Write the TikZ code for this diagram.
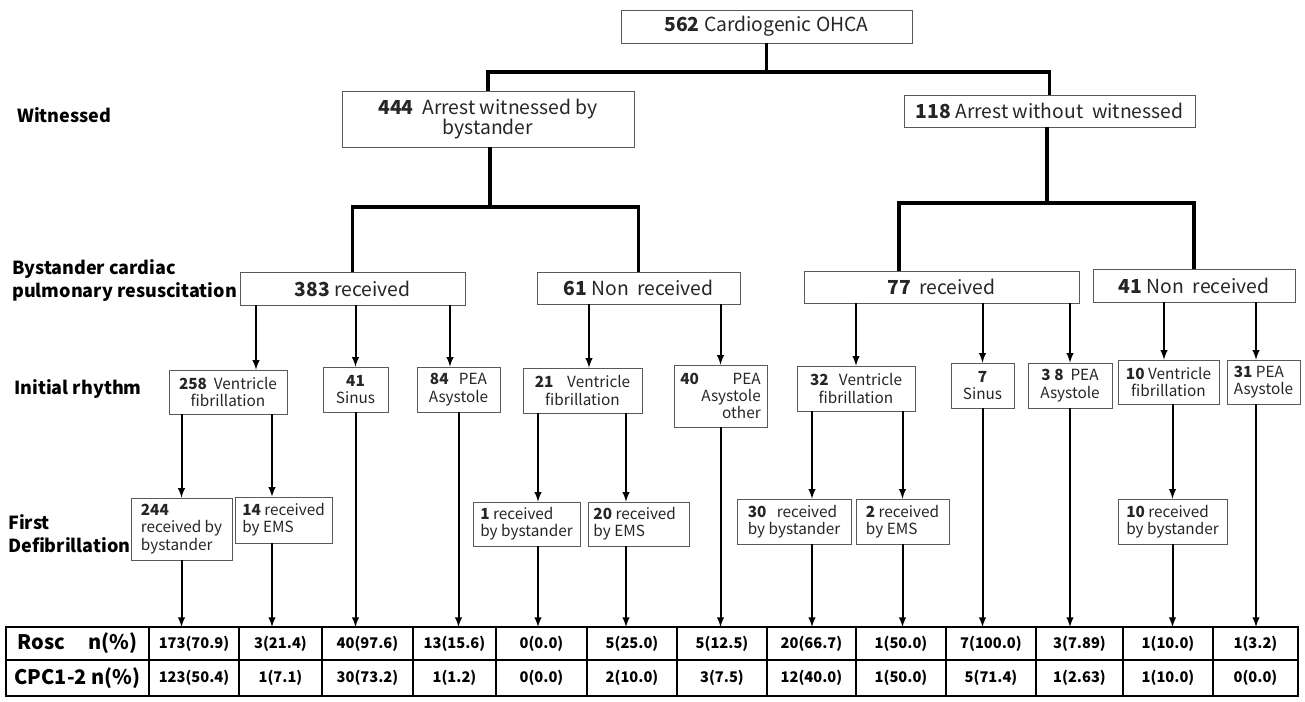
\documentclass[tikz,border=0pt]{standalone}
\usepackage{fontspec}
\setmainfont{Noto Sans CJK JP}
\usepackage{tikz}
\usetikzlibrary{arrows,positioning}
\tikzstyle{flowarrow} = [line width=1.5pt,->,>=latex]
\tikzstyle{treeline} = [line width=2.3pt]

\begin{document}
\begin{tikzpicture}[x=0.75pt,y=-0.75pt,
bignode/.style={rectangle, draw=black!65, text=black!85, inner sep=1pt, align=center, font=\fontsize{14.5}{15.5}\selectfont},
smallnode/.style={rectangle, draw=black!65, text=black!85, inner sep=1pt, font=\fontsize{11.5}{13}\selectfont},
labelnode/.style={anchor=west, align=left, inner sep=0pt, font=\fontsize{13.5}{17.25}\selectfont\bfseries},
cellnode/.style={rectangle, draw, line width=1.9pt, inner sep=0pt, outer sep=0pt, minimum height=24.75pt, font=\fontsize{11}{13}\selectfont\bfseries},
headnode/.style={cellnode, minimum width=107.25pt, font=\fontsize{15}{17}\selectfont\bfseries},]
\useasboundingbox (0,0) rectangle (1305,701);

%Labels
\node[labelnode] (lwit) at (17,115) {Witnessed};
\node[labelnode] (lcpr) at (12,280) {Bystander cardiac\\pulmonary resuscitation};
\node[labelnode] (lrhy) at (14,389) {Initial rhythm};
\node[labelnode] (ldef) at (8,534) {First\\Defibrillation};

%Nodes
\node[bignode, minimum width=218.25pt, minimum height=24.75pt] (top) at (766.5,26.5) {\textbf{562} Cardiogenic OHCA};
\node[bignode, minimum width=219pt, minimum height=42pt] (w444) at (488,119) {\textbf{444}~ Arrest witnessed by\\bystander};
\node[bignode, minimum width=218.25pt, minimum height=24pt] (w118) at (1049.5,111) {\textbf{118} Arrest without~ witnessed};

\node[bignode, minimum width=168.75pt, minimum height=24.75pt] (c383) at (352.5,288.5) {\textbf{383} received};
\node[bignode, minimum width=152.25pt, minimum height=24pt] (c61) at (638.5,288) {\textbf{61} Non~ received};
\node[bignode, minimum width=206.25pt, minimum height=24pt] (c77) at (941.5,287) {\textbf{77}~ received};
\node[bignode, minimum width=151.5pt, minimum height=24.75pt] (c41) at (1194,285.5) {\textbf{41} Non~ received};

\node[smallnode, minimum width=88.5pt, minimum height=33pt, align=center] (r258) at (228,392) {\textbf{258}~ Ventricle\\fibrillation};
\node[smallnode, minimum width=48.75pt, minimum height=33.75pt, align=center] (r41) at (355.5,389.5) {\textbf{41}\\Sinus};
\node[smallnode, minimum width=62.25pt, minimum height=33.75pt, align=center] (r84) at (458.5,389.5) {\textbf{84}~~ PEA\\Asystole};
\node[smallnode, minimum width=89.25pt, minimum height=33.75pt, align=center] (r21) at (582.5,390.5) {\textbf{21}~~~ Ventricle\\fibrillation};
\node[smallnode, minimum width=69.75pt, minimum height=46.5pt, align=right] (r40) at (720.5,396) {\textbf{40}\hspace{2.2em}PEA\\Asystole\\other};
\node[smallnode, minimum width=88.5pt, minimum height=33.75pt, align=center] (r32) at (856,388.5) {\textbf{32}~~ Ventricle\\fibrillation};
\node[smallnode, minimum width=47.25pt, minimum height=33.75pt, align=center] (r7) at (982.5,385.5) {\textbf{7}\\Sinus};
\node[smallnode, minimum width=63pt, minimum height=33.75pt, align=center] (r38) at (1070,385.5) {\textbf{3 8}~ PEA\\Asystole};
\node[smallnode, minimum width=75.75pt, minimum height=33pt, align=center] (r10) at (1168.5,382) {\textbf{10} Ventricle\\fibrillation};
\node[smallnode, minimum width=54.75pt, minimum height=33pt, align=left] (r31) at (1263.5,382) {\textbf{31} PEA\\Asystole};

\node[smallnode, minimum width=75.75pt, minimum height=46.5pt, align=left] (d244) at (181.5,529) {\textbf{244}\\received by\\bystander};
\node[smallnode, minimum width=72.75pt, minimum height=34.5pt, align=left] (d14) at (283.5,520) {\textbf{14} received\\by EMS\phantom{ived}};
\node[smallnode, minimum width=80.25pt, minimum height=33pt, align=left] (d1) at (526.5,524) {\textbf{1} received\\by bystander};
\node[smallnode, minimum width=75.75pt, minimum height=33pt, align=left] (d20) at (638.5,524) {\textbf{20} received\\by EMS\phantom{eived}};
\node[smallnode, minimum width=85.5pt, minimum height=33.75pt, align=left] (d30) at (794,521.5) {\textbf{30}~~ received\\by bystander};
\node[smallnode, minimum width=69.75pt, minimum height=33.75pt, align=left] (d2) at (902.5,521.5) {\textbf{2} received\\by EMS\phantom{ive}};
\node[smallnode, minimum width=81.75pt, minimum height=33.75pt, align=left] (d10) at (1172.5,521.5) {\textbf{10} received\\by bystander};

%Table
\node[headnode] (th) at (77.5,643.5) {\makebox[90pt]{Rosc\hfill n(\%)}};
\node[cellnode, minimum width=67.5pt, right=0pt of th] (t1) {173(70.9)};
\node[cellnode, minimum width=62.25pt, right=0pt of t1] (t2) {3(21.4)};
\node[cellnode, minimum width=68.25pt, right=0pt of t2] (t3) {40(97.6)};
\node[cellnode, minimum width=62.25pt, right=0pt of t3] (t4) {13(15.6)};
\node[cellnode, minimum width=68.25pt, right=0pt of t4] (t5) {0(0.0)};
\node[cellnode, minimum width=67.5pt, right=0pt of t5] (t6) {5(25.0)};
\node[cellnode, minimum width=67.5pt, right=0pt of t6] (t7) {5(12.5)};
\node[cellnode, minimum width=66.75pt, right=0pt of t7] (t8) {20(66.7)};
\node[cellnode, minimum width=67.5pt, right=0pt of t8] (t9) {1(50.0)};
\node[cellnode, minimum width=67.5pt, right=0pt of t9] (t10) {7(100.0)};
\node[cellnode, minimum width=65.25pt, right=0pt of t10] (t11) {3(7.89)};
\node[cellnode, minimum width=67.5pt, right=0pt of t11] (t12) {1(10.0)};
\node[cellnode, minimum width=63.75pt, right=0pt of t12] (t13) {1(3.2)};

\node[headnode, minimum height=27pt, below=0pt of th] (uh) {\makebox[90pt]{CPC1-2 n(\%)}};
\node[cellnode, minimum width=67.5pt, minimum height=27pt, below=0pt of t1] (u1) {123(50.4)};
\node[cellnode, minimum width=62.25pt, minimum height=27pt, below=0pt of t2] (u2) {1(7.1)};
\node[cellnode, minimum width=68.25pt, minimum height=27pt, below=0pt of t3] (u3) {30(73.2)};
\node[cellnode, minimum width=62.25pt, minimum height=27pt, below=0pt of t4] (u4) {1(1.2)};
\node[cellnode, minimum width=68.25pt, minimum height=27pt, below=0pt of t5] (u5) {0(0.0)};
\node[cellnode, minimum width=67.5pt, minimum height=27pt, below=0pt of t6] (u6) {2(10.0)};
\node[cellnode, minimum width=67.5pt, minimum height=27pt, below=0pt of t7] (u7) {3(7.5)};
\node[cellnode, minimum width=66.75pt, minimum height=27pt, below=0pt of t8] (u8) {12(40.0)};
\node[cellnode, minimum width=67.5pt, minimum height=27pt, below=0pt of t9] (u9) {1(50.0)};
\node[cellnode, minimum width=67.5pt, minimum height=27pt, below=0pt of t10] (u10) {5(71.4)};
\node[cellnode, minimum width=65.25pt, minimum height=27pt, below=0pt of t11] (u11) {1(2.63)};
\node[cellnode, minimum width=67.5pt, minimum height=27pt, below=0pt of t12] (u12) {1(10.0)};
\node[cellnode, minimum width=63.75pt, minimum height=27pt, below=0pt of t13] (u13) {0(0.0)};

%Junctions and lanes
\coordinate (j1) at (766.5,72);
\coordinate (j2) at (490,207);
\coordinate (j3) at (1047,203);
\coordinate (k77) at (899,0);
\coordinate (q1) at (256,0);
\coordinate (q2) at (450,0);
\coordinate (q3) at (589,0);
\coordinate (q4) at (1164,0);
\coordinate (q5) at (1256,0);
\coordinate (q6) at (272,0);
\coordinate (q7) at (538,0);
\coordinate (q8) at (626,0);
\coordinate (q9) at (812,0);

%Lines
\draw[treeline] (top.south) -- (j1) -| (w444.north);
\draw[treeline] (j1) -| (w118.north);
\draw[treeline] (w444.south -| j2) -- (j2);
\draw[treeline] (c383.north) |- (j2) -| (c61.north);
\draw[treeline] (w118.south -| j3) -- (j3);
\draw[treeline] (k77 |- c77.north) |- (j3) -| (c41.north);

\draw[flowarrow] (q1 |- c383.south) -- (q1 |- r258.north);
\draw[flowarrow] (c383.south -| r41.north) -- (r41.north);
\draw[flowarrow] (q2 |- c383.south) -- (q2 |- r84.north);
\draw[flowarrow] (q3 |- c61.south) -- (q3 |- r21.north);
\draw[flowarrow] (c61.south -| r40.north) -- (r40.north);
\draw[flowarrow] (c77.south -| r32.north) -- (r32.north);
\draw[flowarrow] (c77.south -| r7.north) -- (r7.north);
\draw[flowarrow] (c77.south -| r38.north) -- (r38.north);
\draw[flowarrow] (q4 |- c41.south) -- (q4 |- r10.north);
\draw[flowarrow] (q5 |- c41.south) -- (q5 |- r31.north);

\draw[flowarrow] (r258.south -| d244.north) -- (d244.north);
\draw[flowarrow] (q6 |- r258.south) -- (q6 |- d14.north);
\draw[flowarrow] (q7 |- r21.south) -- (q7 |- d1.north);
\draw[flowarrow] (q8 |- r21.south) -- (q8 |- d20.north);
\draw[flowarrow] (q9 |- r32.south) -- (q9 |- d30.north);
\draw[flowarrow] (r32.south -| d2.north) -- (d2.north);
\draw[flowarrow] (r10.south -| d10.north) -- (d10.north);

\draw[flowarrow] (d244) -- (d244 |- t1.north);
\draw[flowarrow] (q6 |- d14.south) -- (q6 |- t2.north);
\draw[flowarrow] (r41) -- (r41 |- t3.north);
\draw[flowarrow] (r84) -- (r84 |- t4.north);
\draw[flowarrow] (q7 |- d1.south) -- (q7 |- t5.north);
\draw[flowarrow] (q8 |- d20.south) -- (q8 |- t6.north);
\draw[flowarrow] (r40) -- (r40 |- t7.north);
\draw[flowarrow] (q9 |- d30.south) -- (q9 |- t8.north);
\draw[flowarrow] (d2) -- (d2 |- t9.north);
\draw[flowarrow] (r7) -- (r7 |- t10.north);
\draw[flowarrow] (r38) -- (r38 |- t11.north);
\draw[flowarrow] (d10) -- (d10 |- t12.north);
\draw[flowarrow] (q5 |- r31.south) -- (q5 |- t13.north);
\end{tikzpicture}
\end{document}
